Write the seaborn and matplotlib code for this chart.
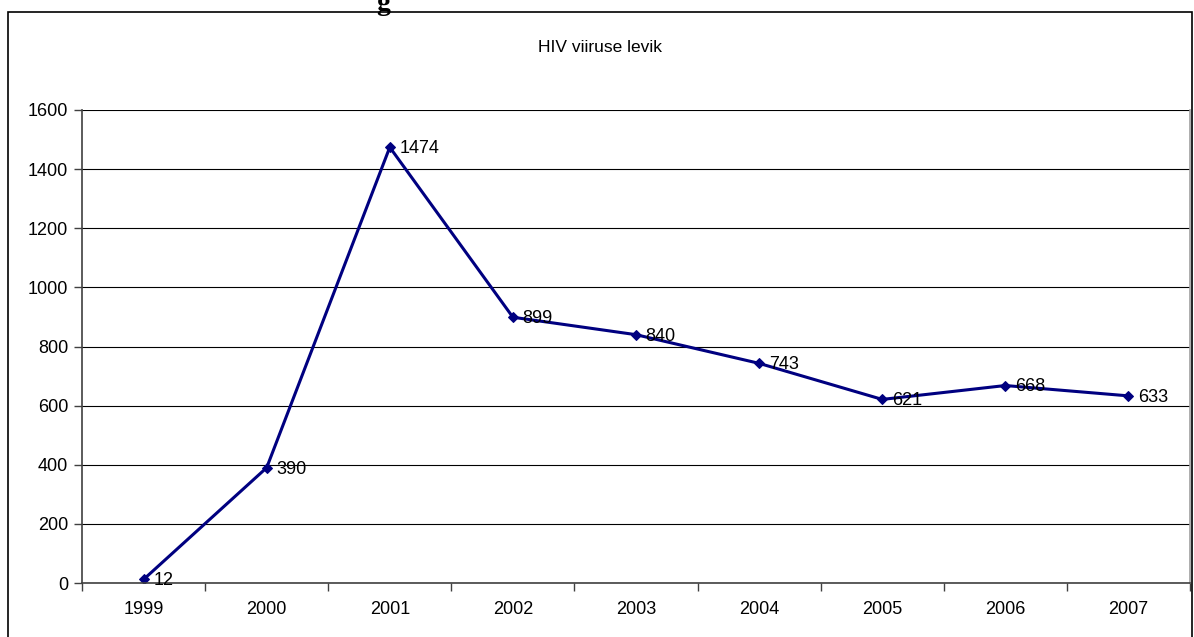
import matplotlib
matplotlib.use("Agg")
import matplotlib.pyplot as plt
import seaborn as sns
import pandas as pd
from matplotlib.patches import Rectangle

years = ["1999", "2000", "2001", "2002", "2003", "2004", "2005", "2006", "2007"]
cases = [12, 390, 1474, 899, 840, 743, 621, 668, 633]
y_ticks = [0, 200, 400, 600, 800, 1000, 1200, 1400, 1600]

sns.set_style("white")
plt.rcParams['font.family'] = ['Liberation Sans', 'DejaVu Sans']
plt.rcParams['text.color'] = 'black'

data = pd.DataFrame({'pos': range(len(years)), 'year': years, 'cases': cases})

W, H = 1194, 637
fig = plt.figure(figsize=(W / 100, H / 100), dpi=100)
ax = fig.add_axes([82 / W, (H - 583) / H, 1108 / W, (583 - 110) / H])

# outer chart border
fig.patches.append(Rectangle((8 / W, -0.05), (1192 - 8) / W, 1.05 - 12 / H,
                             transform=fig.transFigure, fill=False,
                             edgecolor='black', linewidth=1.2))
# cut-off text from page above
fig.text(383 / W, 1.0 + 9 / H, "g", ha='center', va='top', fontsize=20,
         fontweight='bold', family='Liberation Serif')

sns.lineplot(data=data, x='pos', y='cases', ax=ax, color='#000080',
             linewidth=2.2, marker='D', markersize=5, markeredgecolor='#000080')

for _, r in data.iterrows():
    ax.annotate(str(r['cases']), (r['pos'], r['cases']), xytext=(7, -1),
                textcoords='offset points', va='center', ha='left', fontsize=13)

ax.set_xlim(-0.5, len(years) - 0.5)
ax.set_ylim(0, 1600)
ax.set_yticks(y_ticks)
ax.set_yticklabels([str(t) for t in y_ticks], fontsize=13)
ax.set_xticks([i - 0.5 for i in range(len(years) + 1)])
ax.set_xticklabels([])
ax.set_xticks(range(len(years)), minor=True)
ax.set_xticklabels(years, minor=True, fontsize=13)
ax.tick_params(axis='x', which='major', direction='out', length=6, width=1, color='#404040', bottom=True)
ax.tick_params(axis='x', which='minor', length=0, pad=13, labelcolor='black')
ax.tick_params(axis='y', direction='out', length=6, width=1, color='#404040', left=True, pad=4,
               labelcolor='black')

ax.grid(axis='y', color='black', linewidth=0.8)
ax.set_axisbelow(True)
for s in ['left', 'bottom']:
    ax.spines[s].set_color('#404040')
    ax.spines[s].set_linewidth(1.2)
ax.spines['top'].set_visible(False)
ax.spines['right'].set_color('#a0a0a0')
ax.spines['right'].set_linewidth(1.2)
ax.set_xlabel('')
ax.set_ylabel('')

fig.text(600 / W, 1 - 47 / H, "HIV viiruse levik", ha='center', va='center', fontsize=12.5)

fig.savefig("out.png", dpi=100)
